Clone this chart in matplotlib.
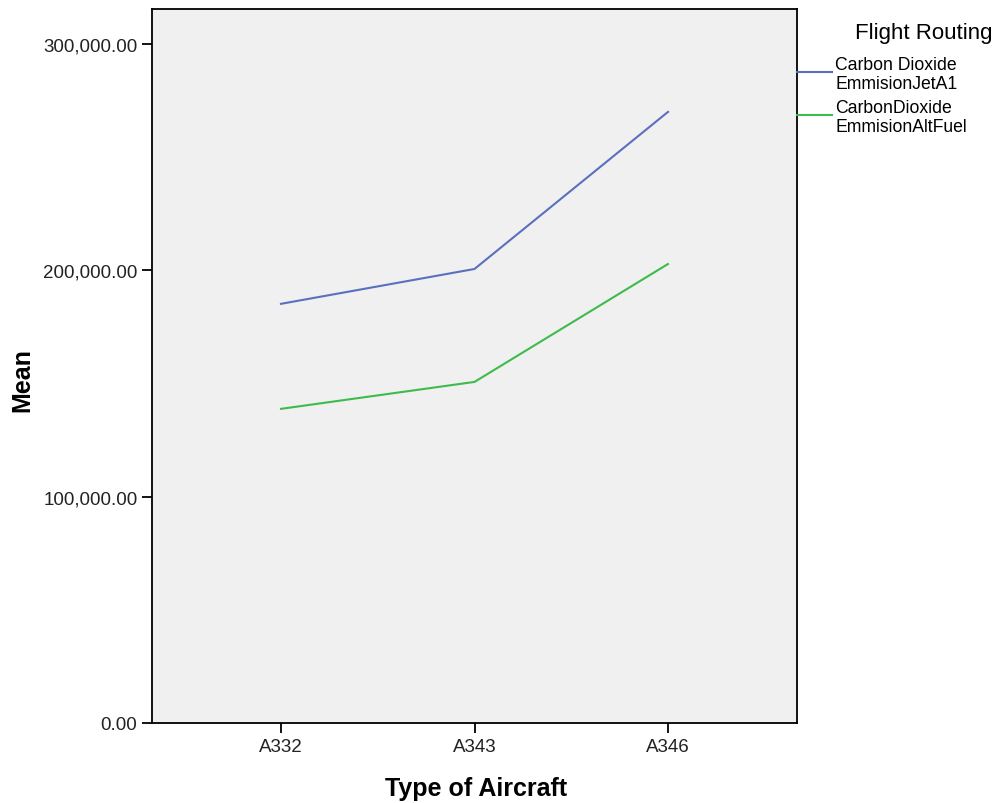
import matplotlib.pyplot as plt
from matplotlib.lines import Line2D

plt.rcParams['font.family'] = ['Liberation Sans', 'DejaVu Sans']

# data
aircraft = ["A332", "A343", "A346"]
jet_a1 = [185200, 200600, 270000]
alt_fuel = [138800, 150700, 202800]
y_ticks = [0, 100000, 200000, 300000]

fig = plt.figure(figsize=(10.05, 8.04), dpi=100)
ax = fig.add_axes([152/1005, 80/804, 645/1005, 714/804])
ax.set_facecolor("#f0f0f0")

x = range(len(aircraft))
ax.plot(x, jet_a1, color="#5b6fbf", lw=1.5)
ax.plot(x, alt_fuel, color="#3dbb4c", lw=1.5)

ax.set_xlim(-2/3, 2 + 2/3)
ax.set_ylim(0, 315460)
ax.set_xticks(list(x))
ax.set_xticklabels(aircraft, fontsize=13.5, color="#222222")
ax.set_yticks(y_ticks)
ax.set_yticklabels([f"{v:,.2f}" for v in y_ticks], fontsize=13.5, color="#222222")
ax.tick_params(length=7, width=1.3, direction="out")
for s in ax.spines.values():
    s.set_linewidth(1.3)

# axis titles placed in figure coords so nothing is clipped
fig.text(476/1005, 1 - 789/804, "Type of Aircraft", fontsize=18, fontweight="bold",
         ha="center", va="center")
fig.text(22/1005, 1 - 380/804, "Mean", fontsize=18, fontweight="bold",
         ha="center", va="center", rotation=90)

# legend drawn by hand, outside the axes
fig.text(924/1005, 1 - 33/804, "Flight Routing", fontsize=16, ha="center", va="center")
legend = [("Carbon Dioxide\nEmmisionJetA1", "#5b6fbf", 73),
          ("CarbonDioxide\nEmmisionAltFuel", "#3dbb4c", 116)]
for label, col, yp in legend:
    fig.add_artist(Line2D([797/1005, 832/1005], [1 - yp/804, 1 - yp/804],
                          color=col, lw=1.5, transform=fig.transFigure))
    fig.text(835/1005, 1 - (yp + 2)/804, label, fontsize=12.7, ha="left", va="center",
             linespacing=1.15)

fig.savefig("out.png", dpi=100)
